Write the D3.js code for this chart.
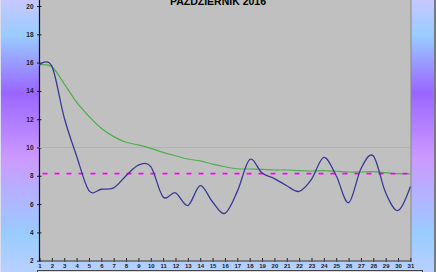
<!DOCTYPE html>
<html>
<head>
<meta charset="utf-8">
<script src="https://cdn.jsdelivr.net/npm/d3@7"></script>
<style>
    body { margin: 0; overflow: hidden; }
    .axis text { font-family: "Liberation Sans", Arial, sans-serif; font-weight: bold; fill: #222; }
    .chart-title { font-family: "Liberation Sans", Arial, sans-serif; font-weight: bold; font-size: 10.5px; }
</style>
</head>
<body>
<div id="chart-area"></div>
<script>
// data
const days = d3.range(1, 32);
const dailyTemp = [15.85, 15.75, 12.1, 9.4, 6.95, 7.05, 7.15, 8.0, 8.75, 8.65,
    6.5, 6.8, 5.9, 7.3, 6.15, 5.35, 6.9, 9.15, 8.2, 7.8,
    7.3, 6.9, 7.75, 9.3, 8.0, 6.1, 8.5, 9.4, 6.8, 5.55, 7.25];
const runningMean = [15.83, 15.7, 14.5, 13.2, 12.2, 11.36, 10.77, 10.37, 10.18, 9.94,
    9.66, 9.42, 9.19, 9.05, 8.83, 8.64, 8.5, 8.48, 8.46, 8.41,
    8.41, 8.36, 8.34, 8.36, 8.32, 8.27, 8.27, 8.29, 8.22, 8.15, 8.13];
const refLevel = 10;
const monthMean = 8.15;
const yTicks = [2, 4, 6, 8, 10, 12, 14, 16, 18, 20];
const title = "PAŹDZIERNIK 2016";

class MonthChart {

    constructor(_parentElement) {
        this.parentElement = _parentElement;
        this.initVis();
    }

    initVis() {
        let vis = this;

        vis.W = 436;
        vis.H = 272;
        vis.plot = { left: 39.5, right: 411, top: -10, bottom: 261 };

        vis.svg = d3.select("#" + vis.parentElement).append("svg")
            .attr("width", vis.W)
            .attr("height", vis.H);

        // background gradient of the whole chart
        let grad = vis.svg.append("defs").append("linearGradient")
            .attr("id", "bg-grad")
            .attr("x1", 0).attr("y1", 0).attr("x2", 0).attr("y2", 1);
        [[0, "#c6c8ff"], [0.13, "#99ccff"], [0.34, "#9966ff"], [0.58, "#cc99ff"],
            [0.86, "#99ccff"], [1, "#b8d0ff"]].forEach(s => {
            grad.append("stop").attr("offset", s[0]).attr("stop-color", s[1]);
        });

        vis.svg.append("rect")
            .attr("width", vis.W)
            .attr("height", vis.H)
            .attr("fill", "url(#bg-grad)");

        vis.svg.append("rect")
            .attr("x", 434)
            .attr("width", 2)
            .attr("height", vis.H)
            .attr("fill", "#7a7a7a");

        vis.svg.append("rect")
            .attr("x", 0)
            .attr("width", 1)
            .attr("height", vis.H)
            .attr("fill", "#dcdcf0");

        // plot area
        vis.svg.append("rect")
            .attr("x", vis.plot.left)
            .attr("y", vis.plot.top)
            .attr("width", vis.plot.right - vis.plot.left)
            .attr("height", vis.plot.bottom - vis.plot.top)
            .attr("fill", "#c0c0c0")
            .attr("stroke", "#888")
            .attr("stroke-width", 1);

        vis.x = d3.scaleLinear()
            .domain([1, 31])
            .range([39.5, 410.4]);

        vis.y = d3.scaleLinear()
            .domain([2, 20])
            .range([260.7, 6]);

        vis.xAxis = d3.axisBottom(vis.x)
            .tickValues(days)
            .tickFormat(d3.format("d"))
            .tickSizeInner(0)
            .tickSizeOuter(0)
            .tickPadding(5);

        vis.yAxis = d3.axisLeft(vis.y)
            .tickValues(yTicks)
            .tickSizeInner(0)
            .tickSizeOuter(0)
            .tickPadding(6);

        vis.svg.append("g")
            .attr("class", "x-axis axis")
            .attr("transform", "translate(0," + vis.plot.bottom + ")")
            .call(vis.xAxis);

        vis.svg.append("g")
            .attr("class", "y-axis axis")
            .attr("transform", "translate(" + vis.plot.left + ",0)")
            .call(vis.yAxis);

        vis.svg.selectAll(".axis .domain").remove();
        vis.svg.selectAll(".x-axis text").attr("font-size", "6px").attr("dy", "0.3em");
        vis.svg.selectAll(".y-axis text").attr("font-size", "6.5px");

        // tick marks crossing the axes
        vis.svg.select(".x-axis").selectAll(".tick")
            .append("line")
            .attr("y1", -3).attr("y2", 1)
            .attr("stroke", "#222");

        vis.svg.select(".y-axis").selectAll(".tick")
            .append("line")
            .attr("x1", -2.5).attr("x2", 2)
            .attr("stroke", "#222");

        vis.svg.append("line")
            .attr("x1", vis.plot.left).attr("x2", vis.plot.right)
            .attr("y1", vis.plot.bottom).attr("y2", vis.plot.bottom)
            .attr("stroke", "#555")
            .attr("stroke-width", 1.2);

        vis.svg.append("line")
            .attr("x1", vis.plot.left).attr("x2", vis.plot.left)
            .attr("y1", vis.plot.top).attr("y2", vis.plot.bottom)
            .attr("stroke", "#111")
            .attr("stroke-width", 1.2);

        // legend box edge peeking at the bottom
        vis.svg.append("rect")
            .attr("x", 37.5)
            .attr("y", 270.5)
            .attr("width", 385)
            .attr("height", 12)
            .attr("fill", "#c8d8ff")
            .attr("stroke", "#444");

        vis.svg.append("text")
            .attr("class", "chart-title")
            .attr("x", 218)
            .attr("y", 5)
            .attr("text-anchor", "middle")
            .text(title);

        vis.updateVis();
    }

    updateVis() {
        let vis = this;

        // snap the thin reference line onto a pixel row so it stays crisp
        let yRef = Math.floor(vis.y(refLevel)) + 0.5;
        vis.svg.append("line")
            .attr("x1", vis.x(1)).attr("x2", vis.x(31))
            .attr("y1", yRef).attr("y2", yRef)
            .attr("stroke", "#00ffff")
            .attr("stroke-width", 1);

        let line = d3.line()
            .x((d, i) => vis.x(days[i]))
            .y(d => vis.y(d))
            .curve(d3.curveCardinal.tension(0));

        vis.svg.append("path")
            .datum(runningMean)
            .attr("d", line)
            .attr("fill", "none")
            .attr("stroke", "#4fae4f")
            .attr("stroke-width", 1.2);

        vis.svg.append("line")
            .attr("x1", vis.x(1)).attr("x2", vis.x(31))
            .attr("y1", vis.y(monthMean)).attr("y2", vis.y(monthMean))
            .attr("stroke", "#ff00ff")
            .attr("stroke-width", 1.8)
            .attr("stroke-dasharray", "5,7")
            .attr("stroke-dashoffset", -3);

        vis.svg.append("path")
            .datum(dailyTemp)
            .attr("d", line)
            .attr("fill", "none")
            .attr("stroke", "#3a3a96")
            .attr("stroke-width", 1.3);
    }
}

new MonthChart("chart-area");
</script>
</body>
</html>
